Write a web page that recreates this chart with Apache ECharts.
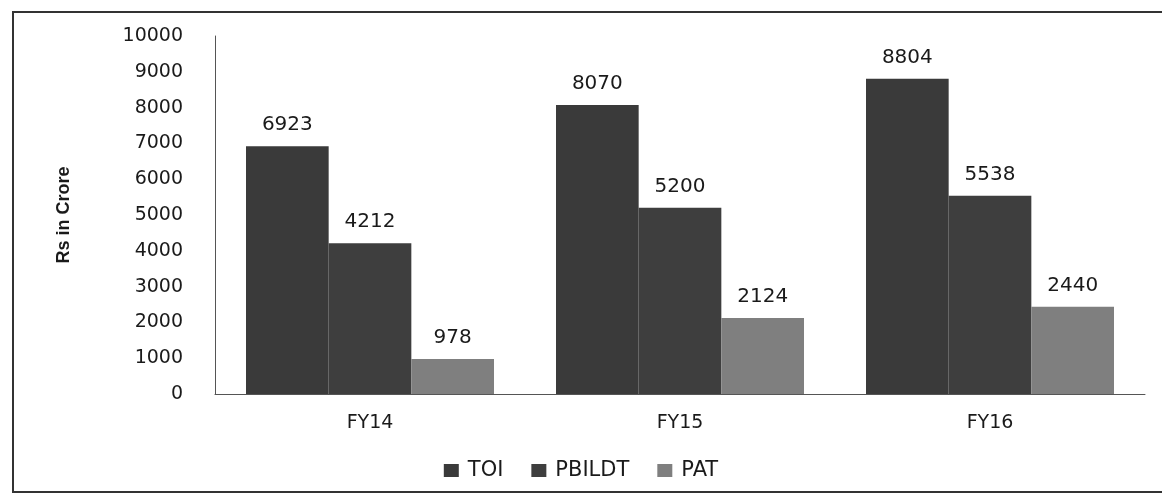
<!DOCTYPE html>
<html>
<head>
<meta charset="utf-8">
<script src="https://cdn.jsdelivr.net/npm/echarts@6/dist/echarts.min.js"></script>
<style>html,body{margin:0;padding:0;background:#fff;}#c{width:1162px;height:496px;}</style>
</head>
<body>
<div id="c"></div>
<script>
const categories = ['FY14', 'FY15', 'FY16'];
const seriesNames = ['TOI', 'PBILDT', 'PAT'];
const toi = [6923, 8070, 8804];
const pbildt = [4212, 5200, 5538];
const pat = [978, 2124, 2440];
const yTicks = [0, 1000, 2000, 3000, 4000, 5000, 6000, 7000, 8000, 9000, 10000];
const colors = ['#3a3a3a', '#3e3e3e', '#7f7f7f'];

const chart = echarts.init(document.getElementById('c'));
const labelStyle = {show: true, position: 'top', distance: 11, fontFamily: 'DejaVu Sans', fontSize: 20, color: '#1a1a1a'};
const mk = (name, data, color) => ({
  name, type: 'bar', data, barGap: '0%', barCategoryGap: '20%',
  itemStyle: {color}, label: labelStyle
});
chart.setOption({
  animation: false,
  backgroundColor: '#fff',
  graphic: [{type: 'rect', shape: {x: 13, y: 12, width: 1160, height: 480}, style: {fill: 'none', stroke: '#333', lineWidth: 2}, silent: true}],
  grid: {left: 215, right: 17, top: 36, bottom: 102},
  legend: {
    top: 455, left: 'center', itemWidth: 15, itemHeight: 13, itemGap: 28,
    icon: 'rect',
    textStyle: {fontFamily: 'DejaVu Sans', fontSize: 21, color: '#1a1a1a', padding: [0, 0, 0, 4]},
    data: seriesNames
  },
  xAxis: {
    type: 'category', data: categories,
    axisLine: {lineStyle: {color: '#555', width: 1}},
    axisTick: {show: false},
    axisLabel: {fontFamily: 'DejaVu Sans', fontSize: 19, color: '#1a1a1a', margin: 20}
  },
  yAxis: {
    type: 'value', min: yTicks[0], max: yTicks[yTicks.length - 1], interval: 1000,
    name: 'Rs in Crore', nameLocation: 'middle', nameGap: 142, nameRotate: 90,
    nameTextStyle: {fontFamily: 'Liberation Sans Narrow, Liberation Sans', fontWeight: 'bold', fontSize: 18, color: '#1a1a1a'},
    axisLine: {show: true, lineStyle: {color: '#555', width: 1}},
    axisTick: {show: false},
    splitLine: {show: false},
    axisLabel: {fontFamily: 'DejaVu Sans', fontSize: 19, color: '#1a1a1a', margin: 32, formatter: v => String(v)}
  },
  series: [mk(seriesNames[0], toi, colors[0]), mk(seriesNames[1], pbildt, colors[1]), mk(seriesNames[2], pat, colors[2])]
});
</script>
</body>
</html>
